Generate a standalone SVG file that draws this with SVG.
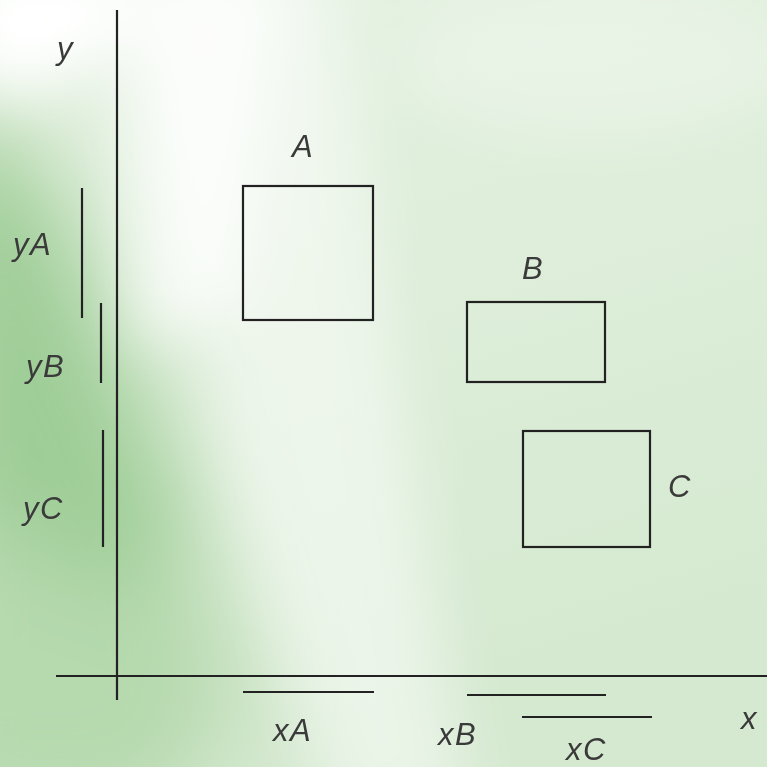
<svg xmlns="http://www.w3.org/2000/svg" width="767" height="767" viewBox="0 0 767 767">
<defs>
<filter id="blur" x="-50%" y="-50%" width="200%" height="200%"><feGaussianBlur stdDeviation="45"/></filter>
<filter id="blur2" x="-50%" y="-50%" width="200%" height="200%"><feGaussianBlur stdDeviation="30"/></filter>
<linearGradient id="base" x1="0" y1="0" x2="0.3" y2="1">
<stop offset="0" stop-color="#e6f2e3"/>
<stop offset="1" stop-color="#d5e9d0"/>
</linearGradient>
<style>
.ln{stroke:#222;stroke-width:2.2;fill:none}
.bx{stroke:#222;stroke-width:2.2;fill:none}
.t{font-family:"Liberation Sans",Arial,sans-serif;font-style:italic;font-size:31px;fill:#3a3a3a;letter-spacing:1.5px}
</style>
</defs>
<rect width="767" height="767" fill="url(#base)"/>
<g filter="url(#blur)">
<polygon points="-80,100 30,130 150,420 240,700 160,820 -80,820" fill="#b6d9ae"/>
<polygon points="-60,150 50,190 190,520 140,600 -60,500" fill="#9fcd97"/>
</g>
<g filter="url(#blur2)">
<polygon points="140,-40 330,-40 470,820 330,820 230,480" fill="#ffffff" opacity="0.5"/>
<polygon points="-40,-40 120,-40 120,50 40,90 -40,80" fill="#ffffff"/>
<polygon points="120,-40 280,-40 240,300 140,350" fill="#ffffff" opacity="0.75"/>
<ellipse cx="600" cy="60" rx="200" ry="80" fill="#ffffff" opacity="0.25"/>
</g>
<g id="axes">
<line class="ln" x1="117" y1="10" x2="117" y2="700"/>
<line class="ln" x1="56" y1="676" x2="767" y2="676"/>
<text class="t" x="57" y="59">y</text>
<text class="t" x="741" y="729">x</text>
</g>
<g id="A">
<rect class="bx" x="243" y="186" width="130" height="134"/>
<text class="t" x="292" y="157">A</text>
</g>
<g id="B">
<rect class="bx" x="467" y="302" width="138" height="80"/>
<text class="t" x="522" y="279">B</text>
</g>
<g id="C">
<rect class="bx" x="523" y="431" width="127" height="116"/>
<text class="t" x="668" y="497">C</text>
</g>
<g id="connectors">
<line class="ln" x1="82" y1="188" x2="82" y2="318"/>
<line class="ln" x1="101" y1="303" x2="101" y2="383"/>
<line class="ln" x1="103" y1="430" x2="103" y2="547"/>
<line class="ln" x1="243" y1="692" x2="374" y2="692"/>
<line class="ln" x1="467" y1="695" x2="606" y2="695"/>
<line class="ln" x1="522" y1="717" x2="652" y2="717"/>
</g>
<g id="labels">
<text class="t" x="13" y="255">yA</text>
<text class="t" x="26" y="377">yB</text>
<text class="t" x="23" y="519">yC</text>
<text class="t" x="273" y="741">xA</text>
<text class="t" x="438" y="745">xB</text>
<text class="t" x="566" y="760">xC</text>
</g>
</svg>
